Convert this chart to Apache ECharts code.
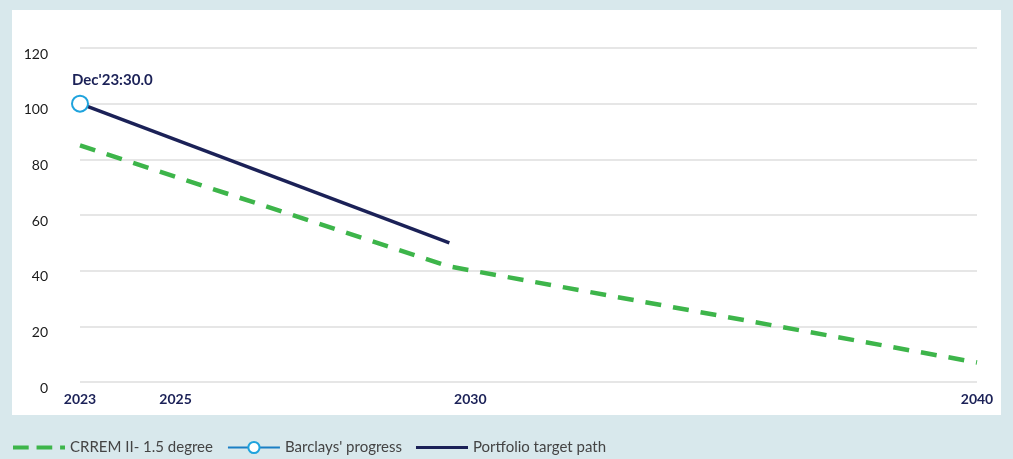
<!DOCTYPE html>
<html>
<head>
<meta charset="utf-8">
<script src="https://cdn.jsdelivr.net/npm/echarts@6/dist/echarts.min.js"></script>
<style>
  html, body { margin: 0; padding: 0; background: #d8e8ec; }
  #chart { width: 1013px; height: 459px; }
</style>
</head>
<body>
<div id="chart"></div>
<script>
// Years and index values (2023 = 100 baseline)
const crremYears = [2023, 2030, 2040];
const crremValues = [85, 41.5, 7];

const targetYears = [2023, 2030];
const targetValues = [100, 50];

const progressYears = [2023];
const progressValues = [100];
const progressPeriods = ["Dec'23"];
const progressIntensity = [30.0];

const xTickLabels = ['2023', '2025', '2030', '2040'];
const yTicks = [0, 20, 40, 60, 80, 100, 120];

const seriesNames = ['CRREM II- 1.5 degree', "Barclays' progress", 'Portfolio target path'];

const NAVY = '#1b2157';
const GREEN = '#3db54a';
const BLUE = '#1fa3dd';
const FONT = 'Lato, "Open Sans", sans-serif';

const pairs = (xs, ys) => xs.map((x, i) => [x, ys[i]]);

// small visual nudges for some year labels
const labelShift = { '2025': 'l', '2030': 'r' };

// legend glyphs: three green dashes, a plain navy bar
const dashIcon = 'path://M0,0h16v4H0z M24,0h16v4H24z M48,0h5v4H48z';
const barIcon = 'path://M0,0h50v3H0z';

const chart = echarts.init(document.getElementById('chart'), null, { renderer: 'canvas' });

chart.setOption({
  backgroundColor: '#d8e8ec',
  animation: false,
  textStyle: { fontFamily: FONT },
  graphic: [{
    type: 'rect',
    z: -10,
    silent: true,
    shape: { x: 12, y: 10, width: 989, height: 405 },
    style: { fill: '#ffffff' }
  }],
  grid: { left: 80, right: 36, top: 48, bottom: 77, containLabel: false },
  legend: {
    left: 8,
    top: 435,
    itemWidth: 52,
    itemHeight: 14,
    itemGap: 14,
    symbolKeepAspect: true,
    textStyle: { fontFamily: FONT, fontSize: 15, color: '#444444' },
    data: [
      { name: seriesNames[0], icon: dashIcon, itemStyle: { color: GREEN } },
      { name: seriesNames[1] },
      { name: seriesNames[2], icon: barIcon, itemStyle: { color: NAVY } }
    ]
  },
  xAxis: {
    type: 'value',
    min: 2023,
    max: 2040,
    interval: 1,
    axisLine: { show: false },
    axisTick: { show: false },
    splitLine: { show: false },
    axisLabel: {
      margin: 10,
      showMinLabel: true,
      showMaxLabel: true,
      fontFamily: FONT,
      fontSize: 14,
      fontWeight: 'bold',
      color: NAVY,
      formatter: function (v) {
        const s = String(Math.round(v));
        if (xTickLabels.indexOf(s) < 0) return '';
        const k = labelShift[s];
        return k ? '{' + k + '|' + s + '}' : s;
      },
      rich: {
        l: { padding: [0, 20, 0, 0], fontFamily: FONT, fontSize: 14, fontWeight: 'bold', color: NAVY },
        r: { padding: [0, 0, 0, 42], fontFamily: FONT, fontSize: 14, fontWeight: 'bold', color: NAVY }
      }
    }
  },
  yAxis: {
    type: 'value',
    min: yTicks[0],
    max: yTicks[yTicks.length - 1],
    interval: 20,
    axisLine: { show: false },
    axisTick: { show: false },
    splitLine: { show: true, lineStyle: { color: '#e6e6e6', width: 2 } },
    axisLabel: {
      margin: 32,
      fontFamily: FONT,
      fontSize: 14,
      color: '#1a1a1a',
      verticalAlign: 'top',
      lineHeight: 12
    }
  },
  series: [
    {
      name: seriesNames[0],
      type: 'line',
      symbol: 'none',
      data: pairs(crremYears, crremValues),
      lineStyle: { color: GREEN, width: 4.5, type: [16, 12] },
      itemStyle: { color: GREEN },
      z: 2
    },
    {
      name: seriesNames[1],
      type: 'line',
      symbol: 'emptyCircle',
      symbolSize: 16,
      data: pairs(progressYears, progressValues),
      lineStyle: { color: '#1b7fc4', width: 3 },
      itemStyle: { color: BLUE, borderColor: BLUE, borderWidth: 2.5 },
      label: {
        show: true,
        position: 'top',
        align: 'left',
        offset: [-8, -2],
        fontFamily: FONT,
        fontSize: 15,
        fontWeight: 'bold',
        color: NAVY,
        formatter: function (p) {
          const i = p.dataIndex;
          return progressPeriods[i] + ':' + progressIntensity[i].toFixed(1);
        }
      },
      z: 4
    },
    {
      name: seriesNames[2],
      type: 'line',
      symbol: 'none',
      data: pairs(targetYears, targetValues),
      lineStyle: { color: NAVY, width: 3.5 },
      itemStyle: { color: NAVY },
      z: 3
    }
  ]
});
</script>
</body>
</html>
